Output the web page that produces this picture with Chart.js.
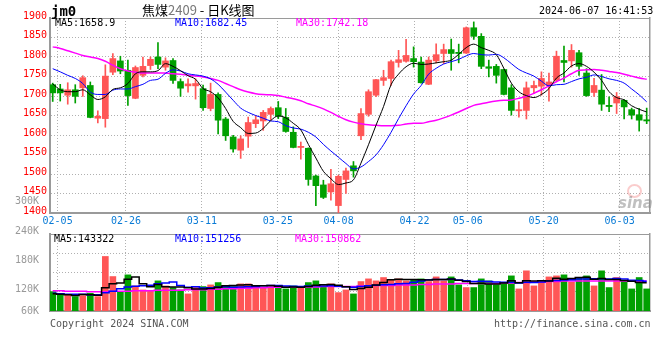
<!DOCTYPE html>
<html>
<head>
<meta charset="utf-8">
<script src="https://cdn.jsdelivr.net/npm/chart.js@4.4.1/dist/chart.umd.min.js"></script>
<style>
  body { margin: 0; background: #fff; }
  #wrap { position: relative; width: 660px; height: 360px; overflow: hidden; font-family: "DejaVu Sans Mono", monospace; }
  #wrap canvas { position: absolute; left: 0; }
  #priceCanvas { top: 0; z-index: 1; }
  #volCanvas { top: 190px; z-index: 2; }
  .lbl { position: absolute; font-size: 10px; line-height: 12px; white-space: pre; z-index: 3; }
</style>
</head>
<body>
<div id="wrap">
  <canvas id="priceCanvas" width="660" height="232"></canvas>
  <canvas id="volCanvas" width="660" height="170"></canvas>

  <div class="lbl" style="left:51px;top:3px;font-size:14px;line-height:16px;font-weight:bold;">jm0</div>
  <div class="lbl" style="left:142px;top:2px;font-size:13px;line-height:16px;font-family:'Noto Sans CJK SC',sans-serif;">焦煤<span style="color:#777">2409</span> - 日K线图</div>
  <div class="lbl" style="left:539px;top:5px;">2024-06-07 16:41:53</div>

  <div class="lbl" style="left:55px;top:17px;color:#000;">MA5:1658.9</div>
  <div class="lbl" style="left:175px;top:17px;color:#0000ff;">MA10:1682.45</div>
  <div class="lbl" style="left:296px;top:17px;color:#ff00ff;">MA30:1742.18</div>

  <div class="lbl" style="left:54px;top:233px;color:#000;">MA5:143322</div>
  <div class="lbl" style="left:175px;top:233px;color:#0000ff;">MA10:151256</div>
  <div class="lbl" style="left:295px;top:233px;color:#ff00ff;">MA30:150862</div>

  <div class="lbl" style="left:50px;top:318px;color:#555;">Copyright 2024 SINA.COM</div>
  <div class="lbl" style="left:494px;top:318px;color:#555;">http://finance.sina.com.cn</div>

  <div class="lbl" style="left:627px;top:184px;width:11px;height:10px;border:2px solid rgba(240,110,110,0.35);border-radius:50%;"></div>
  <div class="lbl" style="left:618px;top:194px;font:italic bold 15px 'DejaVu Sans',sans-serif;color:rgba(140,140,140,0.55);">sina</div>
</div>

<script>
// ---- trading days ----
const DATES = [
  "02-02","02-05","02-06","02-07","02-08","02-19","02-20","02-21","02-22","02-23",
  "02-26","02-27","02-28","02-29","03-01","03-04","03-05","03-06","03-07","03-08",
  "03-11","03-12","03-13","03-14","03-15","03-18","03-19","03-20","03-21","03-22",
  "03-25","03-26","03-27","03-28","03-29","04-01","04-02","04-03",
  "04-08","04-09","04-10","04-11","04-12","04-15","04-16","04-17","04-18","04-19",
  "04-22","04-23","04-24","04-25","04-26","04-29","04-30",
  "05-06","05-07","05-08","05-09","05-10","05-13","05-14","05-15","05-16","05-17",
  "05-20","05-21","05-22","05-23","05-24","05-27","05-28","05-29","05-30","05-31",
  "06-03","06-04","06-05","06-06","06-07"
];

// ---- candles ----
const OPEN = [
  1729,1718,1702,1716,1721,1727,1643,1642,1761,1790,
  1766,1694,1753,1778,1800,1774,1791,1737,1726,1726,
  1719,1668,1704,1641,1595,1561,1597,1629,1636,1653,
  1670,1645,1607,1568,1566,1495,1472,1454,1419,1486,
  1521,1598,1653,1702,1740,1745,1786,1789,1796,1787,
  1730,1790,1809,1819,1812,1810,1875,1853,1775,1776,
  1768,1721,1662,1663,1721,1725,1727,1740,1791,1790,
  1811,1759,1709,1715,1676,1682,1689,1665,1652,1639
];
const HIGH = [
  1733,1730,1734,1729,1752,1736,1662,1780,1809,1802,
  1792,1777,1800,1800,1837,1798,1796,1744,1744,1744,
  1728,1733,1708,1645,1599,1598,1646,1650,1663,1672,
  1686,1668,1621,1582,1567,1497,1484,1512,1497,1515,
  1532,1668,1716,1743,1766,1792,1817,1845,1826,1800,
  1800,1834,1833,1846,1833,1877,1890,1860,1792,1781,
  1769,1729,1686,1736,1738,1762,1759,1815,1828,1832,
  1817,1770,1745,1755,1698,1709,1691,1669,1668,1669
];
const LOW = [
  1686,1687,1679,1682,1699,1644,1631,1620,1755,1757,
  1676,1693,1749,1768,1770,1766,1732,1699,1710,1692,
  1663,1662,1603,1586,1556,1540,1568,1619,1612,1638,
  1642,1607,1567,1538,1471,1419,1437,1433,1400,1450,
  1492,1588,1648,1698,1727,1727,1774,1787,1774,1733,
  1729,1785,1783,1766,1785,1809,1845,1770,1749,1733,
  1703,1651,1646,1641,1706,1702,1687,1736,1736,1774,
  1753,1699,1699,1663,1660,1655,1641,1641,1610,1629
];
const CLOSE = [
  1708,1708,1716,1699,1747,1645,1648,1751,1796,1764,
  1701,1773,1776,1794,1781,1790,1740,1720,1731,1732,
  1670,1704,1638,1598,1564,1590,1632,1639,1658,1668,
  1648,1609,1568,1571,1486,1470,1440,1475,1494,1508,
  1508,1655,1711,1742,1747,1788,1793,1804,1788,1734,
  1792,1806,1819,1809,1809,1875,1853,1776,1771,1753,
  1704,1663,1665,1721,1727,1745,1736,1802,1786,1817,
  1776,1701,1727,1679,1673,1698,1672,1651,1638,1636
];

// ---- price moving averages ----
const MA5 = [
  1731,1716,1711,1711,1716,1703,1691,1698,1717,1721,
  1732,1757,1762,1762,1765,1783,1776,1765,1752,1743,
  1719,1711,1695,1668,1635,1619,1604,1605,1617,1637,
  1649,1644,1630,1613,1576,1541,1507,1488,1473,1477,
  1485,1528,1575,1625,1673,1729,1756,1775,1784,1781,
  1782,1785,1788,1792,1807,1824,1833,1824,1817,1806,
  1771,1733,1711,1701,1696,1704,1719,1746,1759,1777,
  1783,1776,1761,1740,1711,1696,1690,1675,1666,1659
];
const MA10 = [
  1770,1762,1753,1745,1732,1710,1704,1704,1715,1718,
  1718,1724,1730,1740,1743,1758,1767,1764,1757,1754,
  1751,1744,1730,1710,1689,1669,1658,1650,1643,1636,
  1634,1624,1618,1615,1607,1595,1576,1559,1543,1527,
  1513,1518,1532,1549,1575,1607,1642,1675,1705,1727,
  1756,1771,1782,1788,1794,1803,1809,1806,1805,1807,
  1798,1783,1768,1759,1751,1738,1726,1729,1730,1737,
  1744,1748,1754,1750,1744,1740,1733,1718,1703,1685
];
const MA30 = [
  1826,1822,1816,1810,1804,1800,1796,1789,1779,1770,
  1764,1761,1759,1759,1759,1759,1757,1756,1753,1751,
  1749,1745,1740,1732,1724,1716,1710,1706,1704,1703,
  1701,1697,1693,1688,1680,1674,1667,1658,1648,1639,
  1633,1629,1626,1625,1624,1624,1625,1628,1630,1630,
  1634,1638,1644,1651,1659,1668,1676,1680,1684,1687,
  1689,1690,1694,1699,1707,1716,1726,1737,1746,1757,
  1766,1767,1768,1766,1763,1760,1756,1751,1746,1743
];

// ---- volume (lots) ----
const VOLUME = [
  121300,115800,115800,111000,113000,117800,111000,193700,152300,121300,
  155800,133000,124700,122700,143400,133000,129600,124700,116500,129600,
  131600,135100,139900,130900,131600,137200,137200,130300,130300,133000,
  130300,126800,133000,128200,139900,143400,131600,137200,119200,124700,
  116500,142000,147500,143400,150300,145400,147500,143400,145400,147500,
  142000,151600,143400,151600,135100,129600,129600,147500,143400,135100,
  138500,153700,126800,164100,133000,140600,151600,153700,155800,140600,
  150300,153700,133000,164100,129600,150300,143400,126800,150300,126800
];
const VMA5 = [
  117000,116000,115000,113000,115400,114700,113700,129300,137600,139200,
  146800,151200,137400,131500,135900,131400,130700,130700,129400,126700,
  126400,127500,130500,133400,133800,134900,135400,133400,133300,133600,
  132200,130100,130700,130300,131600,134300,135200,136100,134300,131200,
  125800,127900,130000,134800,139900,145700,146800,146000,146400,145800,
  145200,146000,146000,147200,144700,142300,137900,138700,137000,137000,
  138800,143600,139500,143600,143200,143600,143200,148600,146900,148500,
  150400,150800,146700,148300,146100,146100,144100,142800,140100,139500
];
const VMA10 = [
  118000,117000,116000,116000,116000,115000,115000,119000,122000,127300,
  130800,132500,133400,134600,137600,139100,141000,134100,130500,131300,
  128900,129100,130600,131400,130300,130700,131500,132000,133400,133700,
  133600,132800,132100,131800,132600,133300,132700,133400,132300,131400,
  130100,131600,133100,134600,135600,135800,137400,138000,140600,142900,
  145500,146400,146000,146800,145300,143800,142000,142400,142100,140900,
  140600,140800,139100,140300,140100,141200,143400,144100,145300,145900,
  147000,147000,147700,147600,147300,148300,147500,144800,144200,142800
];
const VMA30 = [
  123000,123000,122000,122000,122000,121000,121000,121000,122000,122000,
  122000,123000,123000,123000,124000,124000,124000,124000,125000,125000,
  125000,126000,126000,127000,127000,128000,128000,129000,129000,130000,
  130000,130000,131000,131000,131000,131000,132000,132000,132000,132000,
  132000,133000,133000,134000,134000,134000,135000,135000,135000,136000,
  136000,137000,137000,137000,138000,138000,138000,138000,138000,138000,
  139000,139000,140000,140000,141000,141000,142000,142000,143000,143000,
  143000,143000,143000,143000,143000,143000,143000,143000,143000,143000
];

// ---- axis labels ----
const PRICE_TICKS = [1400, 1450, 1500, 1550, 1600, 1650, 1700, 1750, 1800, 1850, 1900];
const DATE_TICKS = ["02-05", "02-26", "03-11", "03-25", "04-08", "04-22", "05-06", "05-20", "06-03"];
const VOL_TICKS = [60000, 120000, 180000, 240000, 300000];

const RED = "#ff5656";
const GREEN = "#00a000";
const GRID = "#b0b0b0";
const FRAME = "#9a9a9a";
const MONO = '"DejaVu Sans Mono", monospace';

const X_MIN = -0.36, X_MAX = 79.44;
const VOL_MIN = 81300, VOL_MAX = 240000;

Chart.defaults.font.family = MONO;
Chart.defaults.font.size = 10;

const barColors = DATES.map((d, i) => CLOSE[i] >= OPEN[i] ? RED : GREEN);
const pts = arr => arr.map((v, i) => ({ x: i, y: v }));

// date gridlines are spread over the plot width, a bit wider than the candle step
function dateTicks(scale) {
  const step = (X_MAX - X_MIN) / (DATES.length - 1);
  scale.ticks = DATE_TICKS.map(d => ({ value: X_MIN + DATES.indexOf(d) * step }));
}

function maLine(data, color, width, axis, stepped) {
  return {
    type: "line", data: pts(data), borderColor: color, borderWidth: width,
    pointRadius: 0, yAxisID: axis, order: 0,
    stepped: stepped || false,
    cubicInterpolationMode: stepped ? "default" : "monotone"
  };
}

// ==============================
// PRICE PANEL
// ==============================
new Chart(document.getElementById("priceCanvas"), {
  type: "bar",
  data: {
    datasets: [
      maLine(MA5, "#000000", 1, "y"),
      maLine(MA10, "#0000ff", 1, "y"),
      maLine(MA30, "#ff00ff", 1.5, "y"),
      {
        data: DATES.map((d, i) => ({ x: i, y: [OPEN[i], CLOSE[i]] })),
        backgroundColor: barColors, barThickness: 6, grouped: false, order: 1
      },
      {
        data: DATES.map((d, i) => ({ x: i, y: [LOW[i], HIGH[i]] })),
        backgroundColor: barColors, barThickness: 1, grouped: false, order: 2
      }
    ]
  },
  options: {
    responsive: false,
    animation: false,
    devicePixelRatio: 1,
    layout: { padding: { top: 18, left: 0, right: 0, bottom: 0 } },
    plugins: { legend: { display: false }, tooltip: { enabled: false } },
    scales: {
      x: {
        type: "linear", min: X_MIN, max: X_MAX, offset: false,
        afterBuildTicks: dateTicks,
        afterFit: s => { s.height = 19; },
        ticks: {
          color: "#0a7bd6", padding: 2, autoSkip: false, maxRotation: 0,
          callback: (v, i) => DATE_TICKS[i]
        },
        grid: { color: GRID, drawTicks: false, offset: false },
        border: { display: true, color: FRAME, width: 2, dash: [1, 2] }
      },
      y: {
        position: "left", min: 1400, max: 1900,
        afterBuildTicks: s => { s.ticks = PRICE_TICKS.map(v => ({ value: v })); },
        afterFit: s => { s.width = 50; },
        ticks: { color: "#ff0000", padding: 3, labelOffset: -2, autoSkip: false, callback: v => String(v) },
        grid: { color: c => c.tick && c.tick.value === 1900 ? FRAME : GRID, drawTicks: false },
        border: { display: true, color: FRAME, width: 2, dash: c => c.tick && c.tick.value < 1900 ? [1, 2] : [] }
      },
      yr: {
        position: "right", min: 1400, max: 1900,
        afterFit: s => { s.width = 10; },
        ticks: { display: false },
        grid: { display: false },
        border: { display: true, color: FRAME, width: 1.5 }
      }
    }
  }
});

// ==============================
// VOLUME PANEL
// ==============================
new Chart(document.getElementById("volCanvas"), {
  type: "bar",
  data: {
    datasets: [
      maLine(VMA5, "#000000", 1.5, "v", "middle"),
      maLine(VMA10, "#0000ff", 1.5, "v", "middle"),
      maLine(VMA30, "#ff00ff", 1.5, "v", "middle"),
      {
        data: DATES.map((d, i) => ({ x: i, y: VOLUME[i] })),
        backgroundColor: barColors, barThickness: 6, grouped: false, order: 1, yAxisID: "v"
      }
    ]
  },
  options: {
    responsive: false,
    animation: false,
    devicePixelRatio: 1,
    layout: { padding: { top: 44, left: 0, right: 0, bottom: 0 } },
    plugins: { legend: { display: false }, tooltip: { enabled: false } },
    scales: {
      x: {
        type: "linear", min: X_MIN, max: X_MAX, offset: false,
        afterBuildTicks: dateTicks,
        afterFit: s => { s.height = 49; },
        ticks: { display: false },
        grid: { color: GRID, drawTicks: false, offset: false },
        border: { display: true, color: FRAME, width: 2, dash: [1, 2] }
      },
      vl: {
        position: "left", min: VOL_MIN, max: VOL_MAX,
        // the lowest label sits on the panel floor, the top one above the panel
        afterBuildTicks: s => { s.ticks = VOL_TICKS.map(v => ({ value: Math.max(v, s.min - 7700) })); },
        afterFit: s => { s.width = 50; },
        ticks: {
          color: "#999999", padding: 3, labelOffset: -3, autoSkip: false,
          callback: (v, i) => VOL_TICKS[i] / 1000 + "K"
        },
        grid: { display: false },
        border: { display: true, color: FRAME, width: 2 }
      },
      v: {
        position: "right", min: VOL_MIN, max: VOL_MAX,
        afterBuildTicks: s => {
          s.ticks = [0, 1, 2, 3, 4].map(k => ({ value: s.min + (s.max - s.min) * k / 4 }));
        },
        afterFit: s => { s.width = 10; },
        ticks: { display: false },
        grid: { color: c => (c.index === 0 || c.index === 4) ? FRAME : GRID, drawTicks: false },
        border: { display: true, color: FRAME, width: 1.5, dash: c => (c.index > 0 && c.index < 4) ? [1, 2] : [] }
      }
    }
  }
});
</script>
</body>
</html>
